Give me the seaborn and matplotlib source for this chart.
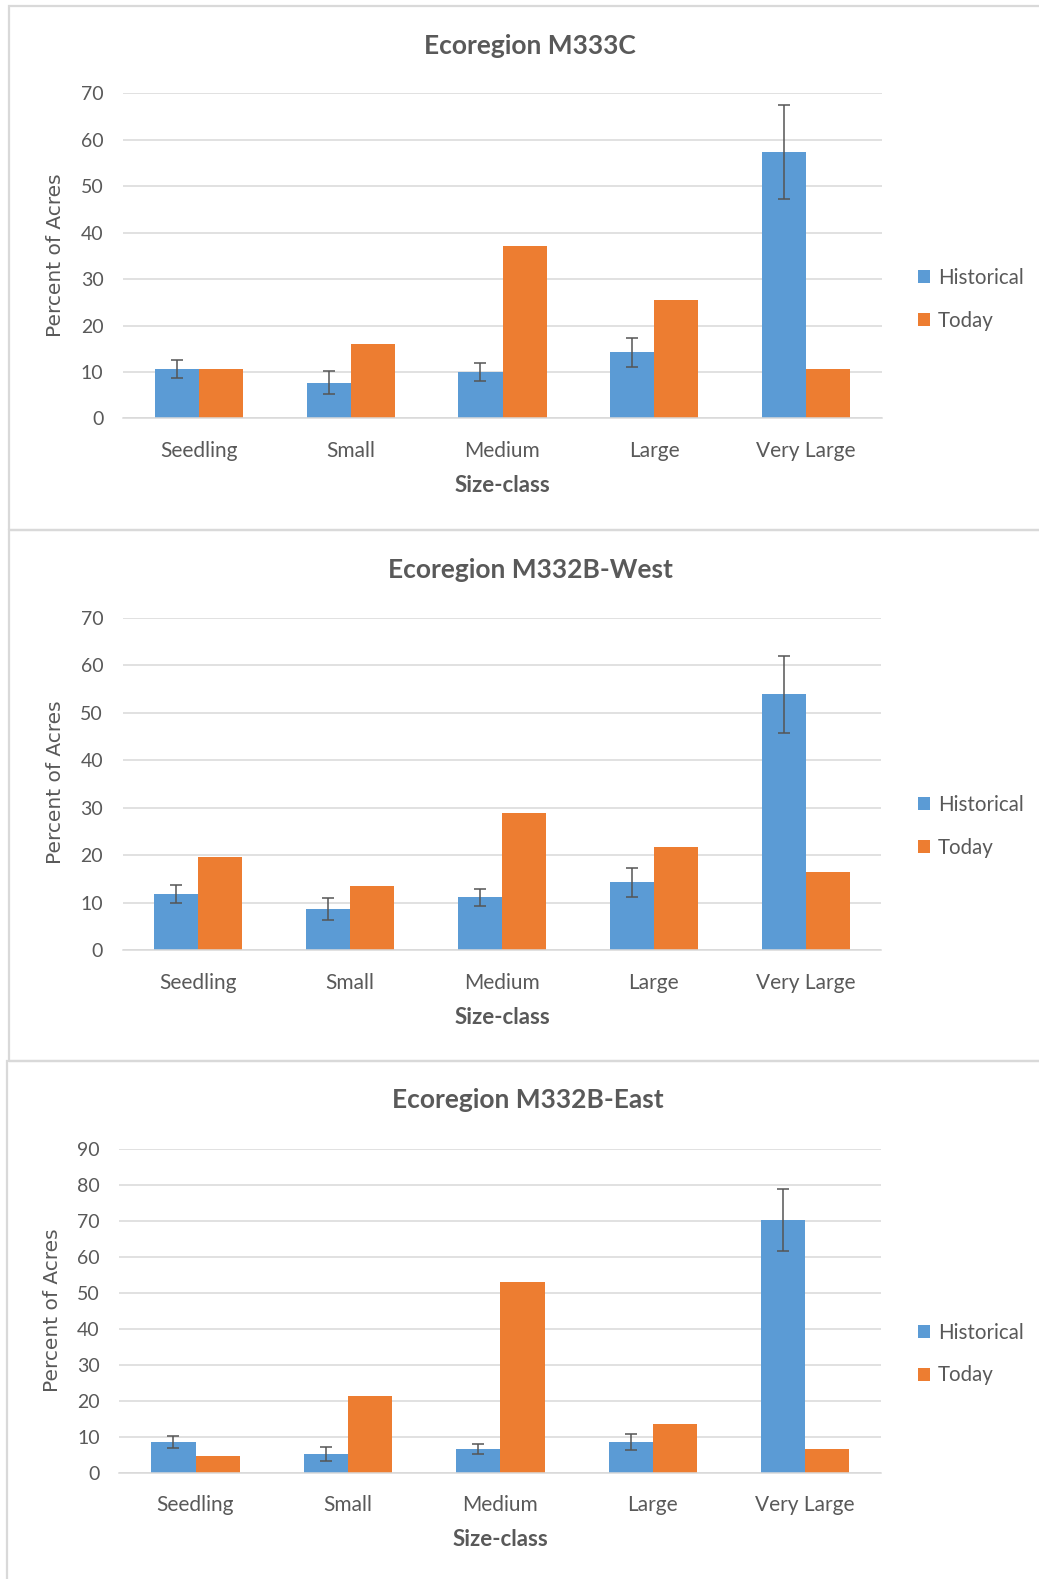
import numpy as np
import pandas as pd
import matplotlib
matplotlib.use("Agg")
import matplotlib.pyplot as plt
from matplotlib.patches import Rectangle
import seaborn as sns

# ---- data -------------------------------------------------------------
size_classes = ["Seedling", "Small", "Medium", "Large", "Very Large"]
series_names = ["Historical", "Today"]

m333c_historical = [10.6, 7.7, 10.0, 14.2, 57.4]
m333c_hist_err = [2.0, 2.5, 2.0, 3.1, 10.1]
m333c_today = [10.6, 16.0, 37.1, 25.6, 10.6]

m332b_west_historical = [11.8, 8.7, 11.2, 14.3, 53.9]
m332b_west_hist_err = [1.9, 2.35, 1.8, 3.0, 8.1]
m332b_west_today = [19.6, 13.5, 28.8, 21.7, 16.4]

m332b_east_historical = [8.7, 5.3, 6.7, 8.7, 70.2]
m332b_east_hist_err = [1.7, 1.9, 1.4, 2.2, 8.6]
m332b_east_today = [4.7, 21.4, 52.9, 13.7, 6.7]

titles = ["Ecoregion M333C", "Ecoregion M332B-West", "Ecoregion M332B-East"]
y_max = [70, 70, 90]

# ---- styling ----------------------------------------------------------
sns.set_theme(style="white")
plt.rcParams["font.family"] = ["Lato", "DejaVu Sans"]
TEXT = "#595959"
GRID = "#D9D9D9"
palette = {"Historical": "#5B9BD5", "Today": "#ED7D31"}

W, H = 1039, 1579
fig = plt.figure(figsize=(W / 100, H / 100), dpi=100)
fig.patch.set_facecolor("white")


def fx(x):
    return x / W


def fy(y):
    return 1 - y / H


# panel frames (left, top, bottom) in pixels
frames = [(8.5, 6, 530), (8.5, 530, 1061), (6.5, 1061, 1600)]
for left, top, bottom in frames:
    fig.add_artist(Rectangle((fx(left), fy(bottom)), fx(1100 - left), fy(top) - fy(bottom),
                             transform=fig.transFigure, fill=False,
                             edgecolor=GRID, linewidth=1.6, zorder=0))

# axes boxes: left, right, top(y max), bottom(0)
boxes = [(123, 882, 93.3, 418.4), (122.6, 881.4, 617.5, 950.4), (119.3, 881.4, 1148.5, 1473.2)]
title_pos = [(529.5, 46.5), (530, 570), (528, 1100)]
xlabel_pos = [(502, 485.5), (502, 1017.6), (500.6, 1539.3)]
ylabel_pos = [(56, 254.8), (56, 781.7), (53, 1310)]
legend_pos = [(918, 299.5), (918, 826.5), (918, 1354)]

panels = [
    (m333c_historical, m333c_hist_err, m333c_today),
    (m332b_west_historical, m332b_west_hist_err, m332b_west_today),
    (m332b_east_historical, m332b_east_hist_err, m332b_east_today),
]

for i, (hist, err, today) in enumerate(panels):
    l, r, t, b = boxes[i]
    ax = fig.add_axes([fx(l), fy(b), fx(r) - fx(l), fy(t) - fy(b)])

    df = pd.DataFrame({
        "Size-class": size_classes * 2,
        "Series": [series_names[0]] * 5 + [series_names[1]] * 5,
        "Percent": list(hist) + list(today),
    })
    sns.barplot(data=df, x="Size-class", y="Percent", hue="Series",
                order=size_classes, hue_order=series_names, palette=palette,
                width=0.58, errorbar=None, linewidth=0, saturation=1, ax=ax)

    # error bars on the historical bars
    centers = [p.get_x() + p.get_width() / 2 for p in ax.containers[0]]
    ax.errorbar(centers, hist, yerr=err, fmt="none", ecolor="#555555",
                elinewidth=1.1, capsize=4.2, capthick=1.1, zorder=5)

    ax.set_xlim(-0.5, 4.5)
    ax.set_ylim(0, y_max[i])
    ax.set_yticks(np.arange(0, y_max[i] + 1, 10))
    ax.yaxis.grid(True, color=GRID, linewidth=1.1)
    ax.set_axisbelow(True)
    for side in ["top", "right", "left"]:
        ax.spines[side].set_visible(False)
    ax.spines["bottom"].set_color(GRID)
    ax.spines["bottom"].set_linewidth(1.1)

    ax.set_xticks(np.arange(-0.5, 5, 1), minor=True)
    ax.tick_params(axis="x", which="minor", length=7, color=GRID, width=1.1)
    ax.tick_params(axis="x", which="major", length=0, pad=16, labelsize=15, labelcolor=TEXT)
    ax.tick_params(axis="y", length=0, pad=14, labelsize=14, labelcolor=TEXT)

    ax.set_xlabel("")
    ax.set_ylabel("")

    fig.text(fx(title_pos[i][0]), fy(title_pos[i][1]), titles[i], ha="center", va="center",
             fontsize=19, fontweight="bold", color=TEXT)
    fig.text(fx(xlabel_pos[i][0]), fy(xlabel_pos[i][1]), "Size-class", ha="center", va="center",
             fontsize=16, fontweight="bold", color=TEXT)
    fig.text(fx(ylabel_pos[i][0]), fy(ylabel_pos[i][1]), "Percent of Acres", ha="center", va="center",
             rotation=90, fontsize=14.5, color=TEXT, family="DejaVu Sans")

    sns.move_legend(ax, "center left", bbox_to_anchor=(fx(legend_pos[i][0]), fy(legend_pos[i][1])),
                    bbox_transform=fig.transFigure, frameon=False, title=None,
                    fontsize=14.8, handlelength=0.6, handleheight=0.6,
                    handletextpad=0.38, labelspacing=1.1, borderpad=0, borderaxespad=0)
    for txt in ax.get_legend().get_texts():
        txt.set_color(TEXT)

fig.savefig("out.png", dpi=100, facecolor="white")
